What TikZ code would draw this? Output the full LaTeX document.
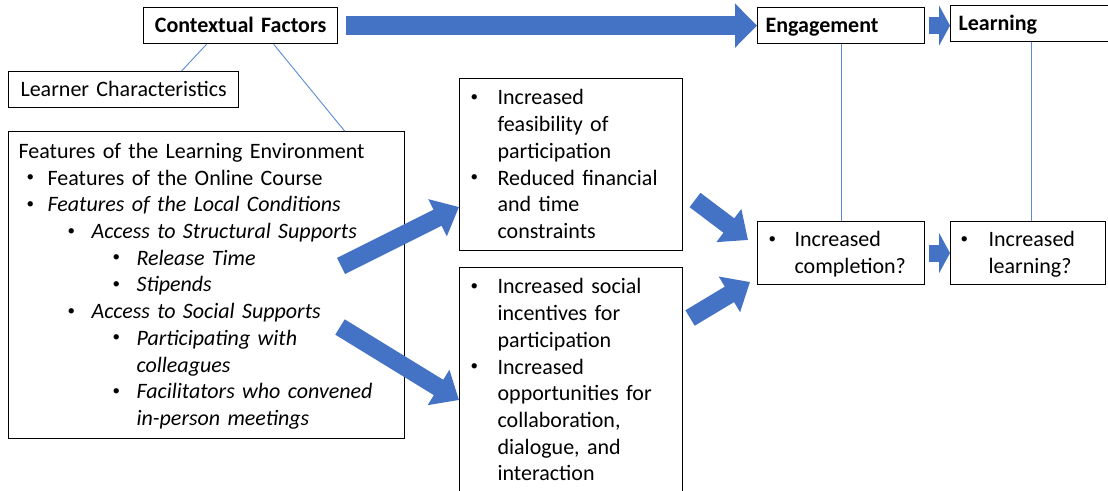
\documentclass[tikz,border=0pt]{standalone}
\usepackage{fontspec}
\setmainfont{Carlito}
\usetikzlibrary{arrows.meta}
\definecolor{ArrowBlue}{HTML}{4472C4}
\definecolor{LineBlue}{HTML}{5B8AD6}

% small bullet, then the text of the item
\newcommand{\dotmark}{\raisebox{3.5pt}{\fontsize{15}{15}\selectfont\textbullet}}
\newcommand{\bulletrow}[3]{\hspace*{#1}\makebox[#2][l]{\dotmark}#3}

\begin{document}
\begin{tikzpicture}[x=1pt, y=-1pt,
    font=\fontsize{22}{26.7}\selectfont,
    box/.style={draw=black, line width=1.2pt, fill=white, anchor=north west,
        inner xsep=8pt, inner ysep=4.65pt,
        execute at begin node={\rule{0pt}{20.3pt}},
        execute at end node={\rule[-6.4pt]{0pt}{6.4pt}}},
    listbox/.style={box, align=left, inner ysep=6pt},
    headbox/.style={box, align=left, font=\fontsize{22}{26.7}\selectfont\bfseries},
    flow/.style={ArrowBlue, line width=18pt, -{Triangle[length=24pt, width=40pt]}},
    shortflow/.style={flow, line width=17pt, -{Triangle[length=11pt, width=40pt]}},
    tie/.style={LineBlue, line width=0.9pt},
]
\useasboundingbox (0,0) rectangle (1108,490);

% contextual factors and what they cover
\node[headbox, align=center, text width=178pt] (ctx) at (143,7) {Contextual Factors};
\node[box, align=center, text width=210pt, inner xsep=10pt] (lrnc) at (8,71)
    {Learner Characteristics};
\node[listbox, text width=376pt, inner xsep=10pt, inner ysep=6.5pt] (feat) at (8,131)
    {Features of the Learning Environment\\
     \bulletrow{8pt}{21pt}{Features of the Online Course}\\
     \bulletrow{8pt}{21pt}{\textit{Features of the Local Conditions}}\\
     \bulletrow{49pt}{24pt}{\textit{Access to Structural Supports}}\\
     \bulletrow{94pt}{24pt}{\textit{Release Time}}\\
     \bulletrow{94pt}{24pt}{\textit{Stipends}}\\
     \bulletrow{49pt}{24pt}{\textit{Access to Social Supports}}\\
     \bulletrow{94pt}{24pt}{\textit{Participating with}}\\
     \hspace*{118pt}\textit{colleagues}\\
     \bulletrow{94pt}{24pt}{\textit{Facilitators who convened}}\\
     \hspace*{118pt}\textit{in-person meetings}};

% mechanisms
\node[listbox, text width=207pt] (feas) at (459,78)
    {\bulletrow{3pt}{27pt}{Increased}\\
     \hspace*{30pt}feasibility of\\
     \hspace*{30pt}participation\\
     \bulletrow{3pt}{27pt}{Reduced financial}\\
     \hspace*{30pt}and time\\
     \hspace*{30pt}constraints};
\node[listbox, text width=207pt] (soc) at (459,267)
    {\bulletrow{3pt}{27pt}{Increased social}\\
     \hspace*{30pt}incentives for\\
     \hspace*{30pt}participation\\
     \bulletrow{3pt}{27pt}{Increased}\\
     \hspace*{30pt}opportunities for\\
     \hspace*{30pt}collaboration,\\
     \hspace*{30pt}dialogue, and\\
     \hspace*{30pt}interaction};

% outcomes
\node[headbox, text width=151pt] (eng) at (757,7) {Engagement};
\node[headbox, text width=146pt] (learn) at (950,5) {Learning};
\node[listbox, text width=151pt, inner ysep=4.8pt] (comp) at (757,221)
    {\bulletrow{3pt}{26pt}{Increased}\\
     \hspace*{29pt}completion?};
\node[listbox, text width=139pt, inner ysep=4.8pt] (lrn2) at (950,221)
    {\bulletrow{2pt}{28pt}{Increased}\\
     \hspace*{30pt}learning?};

% thin links
\draw[tie] ([xshift=-34pt]ctx.south) -- ([xshift=58pt]lrnc.north);
\draw[tie] ([xshift=33pt]ctx.south) -- ([xshift=138pt]feat.north);
\draw[tie] (eng.south) -- (comp.north);
\draw[tie] (learn.south) -- (learn.south |- lrn2.north);

% block arrows
\coordinate (structTail) at (341,266);
\coordinate (socialTail) at (340,327);
\coordinate (feasTail) at (695,200);
\coordinate (socTail) at (690,318);

\draw[flow, line width=19pt, -{Triangle[length=22pt, width=43pt]}]
    ([xshift=8pt]ctx.east) -- (eng.west);
\draw[shortflow] ([xshift=4pt]eng.east) -- (eng.east -| learn.west);
\draw[shortflow] ([xshift=4pt]comp.east) -- (lrn2.west);
\draw[flow] (structTail) -- ([yshift=-129pt]feas.north west);
\draw[flow] (socialTail) -- ([yshift=-133pt]soc.north west);
\draw[flow] (feasTail) -- ([xshift=-9pt, yshift=-19pt]comp.north west);
\draw[flow] (socTail) -- ([xshift=-7pt, yshift=-61pt]comp.north west);

\end{tikzpicture}
\end{document}
